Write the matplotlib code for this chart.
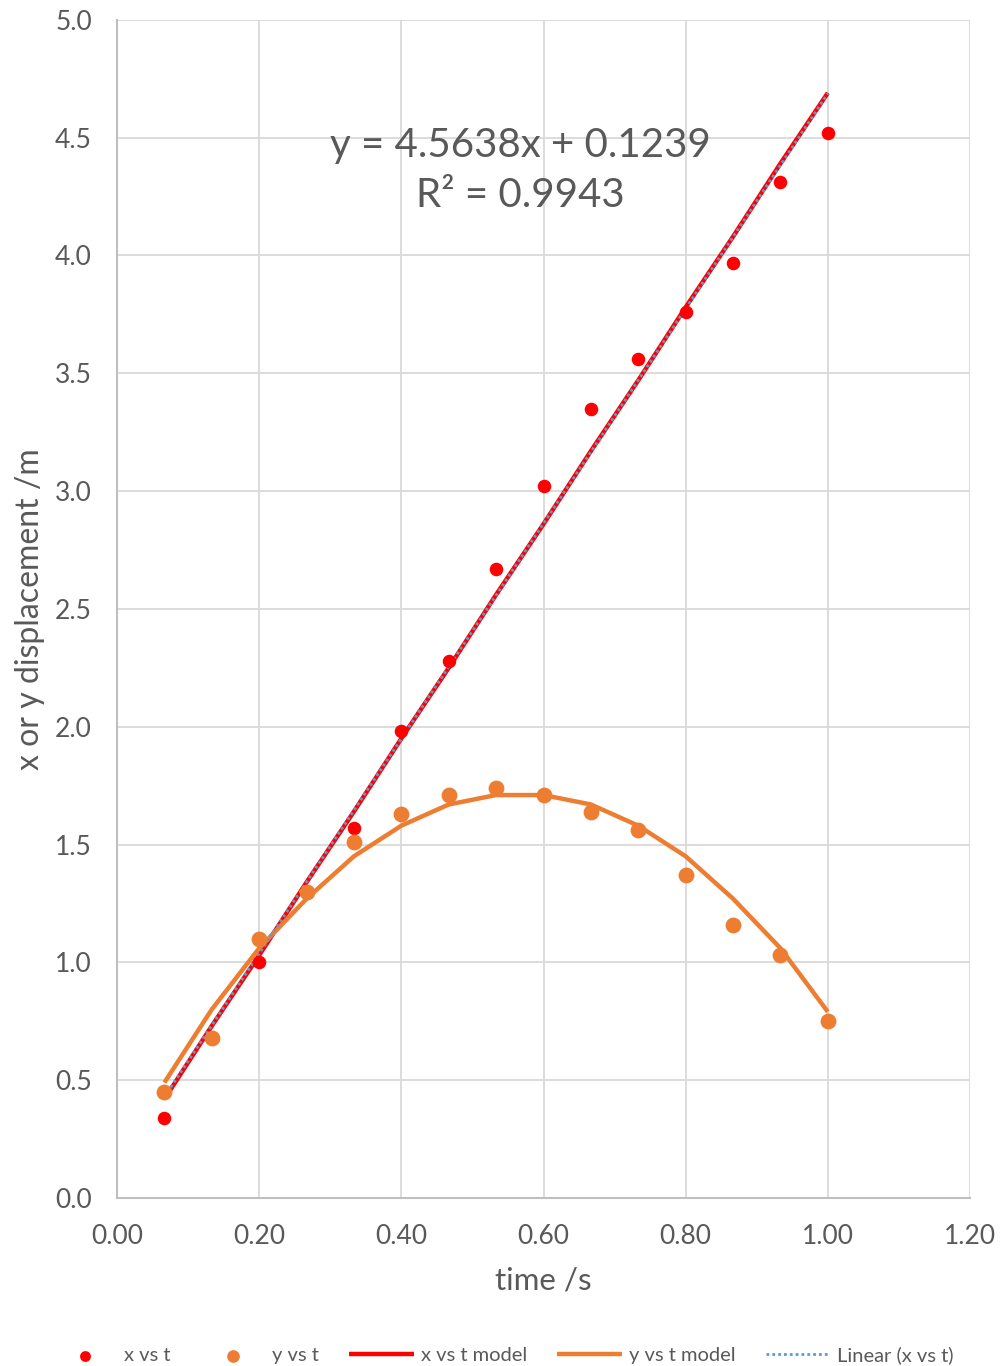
import numpy as np
import matplotlib.pyplot as plt

plt.rcParams['font.family'] = ['Lato', 'DejaVu Sans']

# time points (s)
t = [0.0667, 0.1333, 0.2000, 0.2667, 0.3333, 0.4000, 0.4667, 0.5333,
     0.6000, 0.6667, 0.7333, 0.8000, 0.8667, 0.9333, 1.0000]

# measured displacements (m)
x_obs = [0.34, 0.68, 1.00, 1.30, 1.57, 1.98, 2.28, 2.67,
         3.02, 3.35, 3.56, 3.76, 3.97, 4.31, 4.52]
y_obs = [0.45, 0.68, 1.10, 1.30, 1.51, 1.63, 1.71, 1.74,
         1.71, 1.64, 1.56, 1.37, 1.16, 1.03, 0.75]

# model curves (m)
x_model = [0.42, 0.73, 1.03, 1.34, 1.64, 1.95, 2.25, 2.56,
           2.86, 3.17, 3.47, 3.78, 4.08, 4.39, 4.69]
y_model = [0.49, 0.80, 1.06, 1.27, 1.45, 1.58, 1.67, 1.71,
           1.71, 1.67, 1.58, 1.45, 1.27, 1.06, 0.79]

# trendline from the chart label
slope = 4.5638
intercept = 0.1239
r2 = 0.9943

xticks = [0.0, 0.2, 0.4, 0.6, 0.8, 1.0, 1.2]
yticks = [0.0, 0.5, 1.0, 1.5, 2.0, 2.5, 3.0, 3.5, 4.0, 4.5, 5.0]

txt = '#595959'
red = '#ff0000'
orange = '#ed7d31'
blue = '#5b9bd5'

fig = plt.figure(figsize=(10, 13.66), dpi=100)
ax = fig.add_axes([0.117, 0.123, 0.853, 0.8625])

t_arr = np.array(t)
trend = slope * t_arr + intercept

ax.plot(t, x_model, color=red, lw=3.2, label='x vs t model', zorder=3, solid_capstyle='butt')
ax.plot(t, y_model, color=orange, lw=3.2, label='y vs t model', zorder=3, solid_capstyle='butt')
ax.plot(t_arr, trend, color=blue, lw=2.0, ls=(0, (1, 1.1)), label='Linear (x vs t)', zorder=4)
ax.scatter(t, x_obs, s=95, color=red, label='x vs t', zorder=5, linewidths=0)
ax.scatter(t, y_obs, s=130, color=orange, label='y vs t', zorder=6, linewidths=0)

ax.set_xlim(0, 1.2)
ax.set_ylim(0, 5.0)
ax.set_xticks(xticks)
ax.set_yticks(yticks)
ax.set_xticklabels([f'{v:.2f}' for v in xticks])
ax.set_yticklabels([f'{v:.1f}' for v in yticks])
ax.tick_params(length=0, labelsize=19, colors=txt)
ax.tick_params(axis='x', pad=19)
ax.tick_params(axis='y', pad=18)
ax.grid(True, color='#d9d9d9', lw=1.3)
ax.set_axisbelow(True)
for s in ['top', 'right']:
    ax.spines[s].set_visible(False)
for s in ['left', 'bottom']:
    ax.spines[s].set_color('#bfbfbf')
    ax.spines[s].set_linewidth(1.5)

ax.set_xlabel('time /s', fontsize=22.5, color=txt, labelpad=12)
ax.set_ylabel('x or y displacement /m', fontsize=23, color=txt, labelpad=7)

ax.text(0.567, 4.36, f'y = {slope}x + {intercept}\nR² = {r2}', ha='center', va='center',
        fontsize=29, color=txt, linespacing=1.45)

handles, labels = ax.get_legend_handles_labels()
order = [3, 4, 0, 1, 2]
fig.legend([handles[i] for i in order], [labels[i] for i in order],
           loc='lower center', bbox_to_anchor=(0.503, -0.012), ncol=5, frameon=False,
           fontsize=14.5, labelcolor=txt, handlelength=3.2, handletextpad=0.35,
           columnspacing=1.5, markerscale=0.8)

fig.savefig('out.png', dpi=100)
